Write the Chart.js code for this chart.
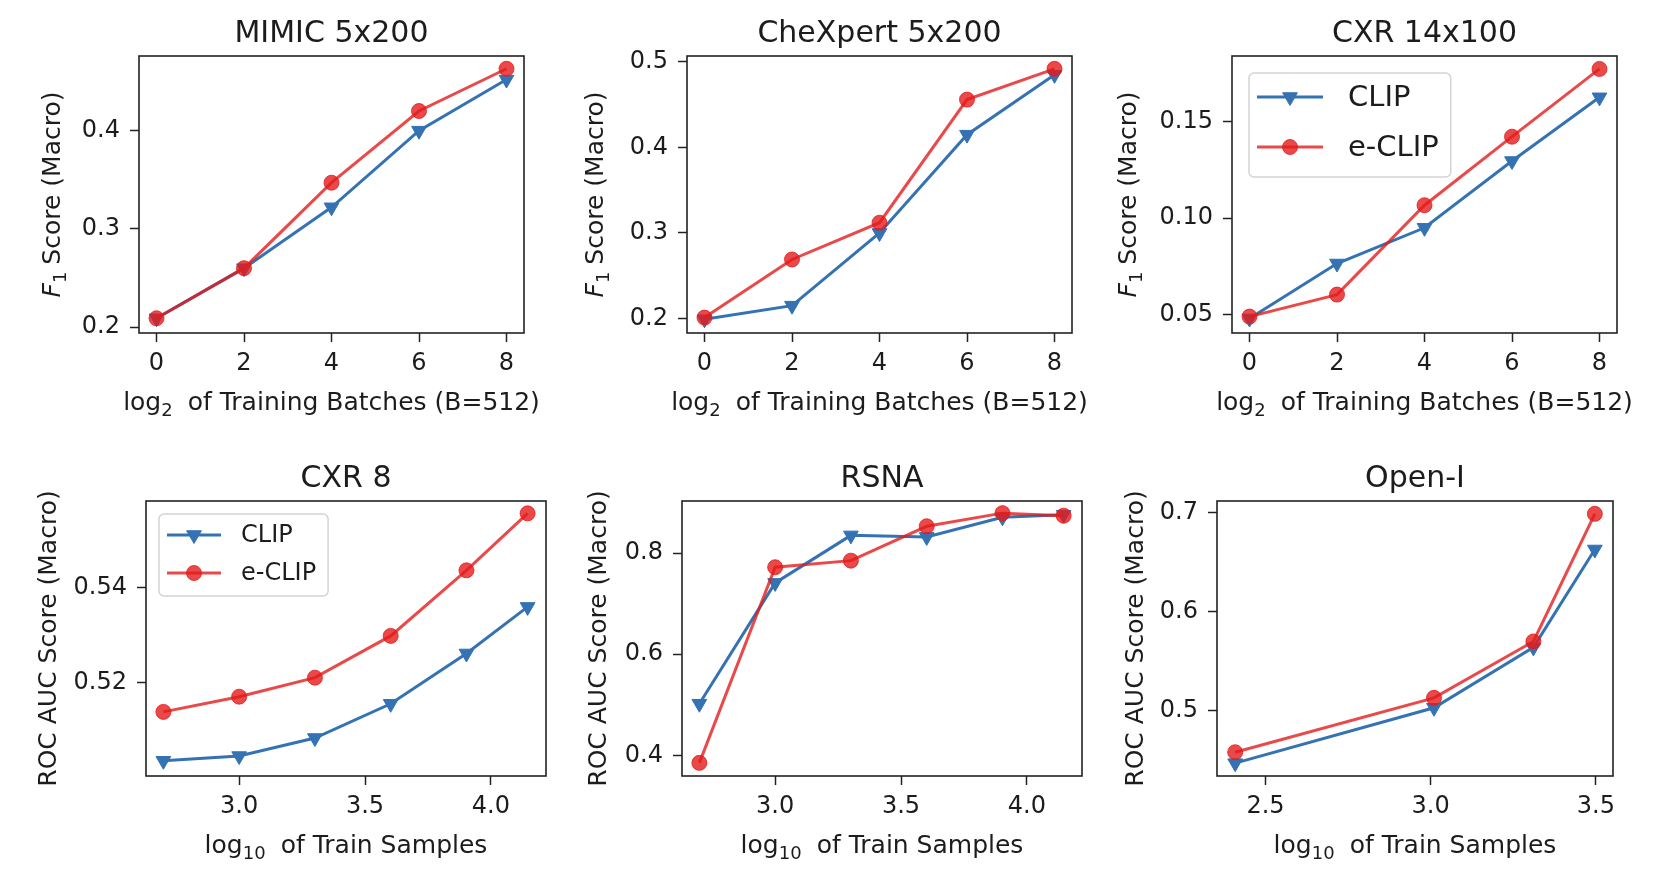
<!DOCTYPE html>
<html>
<head>
<meta charset="utf-8">
<script src="https://cdn.jsdelivr.net/npm/chart.js"></script>
<style>
html,body{margin:0;padding:0;background:#ffffff;}
#wrap{position:relative;width:1664px;height:882px;overflow:hidden;background:#fff;}
#wrap canvas{position:absolute;}
</style>
</head>
<body>
<div id="wrap"></div>
<script>
// ---------------- DATA ----------------
const batchX = [0, 2, 4, 6, 8];
const mimicClip  = [0.209, 0.260, 0.322, 0.400, 0.452];
const mimicEclip = [0.209, 0.260, 0.347, 0.420, 0.463];
const chexClip   = [0.199, 0.215, 0.300, 0.415, 0.485];
const chexEclip  = [0.201, 0.269, 0.312, 0.456, 0.492];
const cxr14Clip  = [0.048, 0.0765, 0.095, 0.1296, 0.1626];
const cxr14Eclip = [0.049, 0.0604, 0.1067, 0.1422, 0.1773];

const sampleX    = [2.699, 3.0, 3.301, 3.602, 3.903, 4.146];
const cxr8Clip   = [0.5036, 0.5046, 0.5084, 0.5156, 0.5262, 0.5360];
const cxr8Eclip  = [0.5139, 0.5171, 0.5211, 0.5299, 0.5437, 0.5557];
const rsnaClip   = [0.502, 0.741, 0.835, 0.832, 0.871, 0.876];
const rsnaEclip  = [0.385, 0.772, 0.785, 0.853, 0.879, 0.874];
const openiX     = [2.408, 3.010, 3.311, 3.497];
const openiClip  = [0.447, 0.503, 0.564, 0.663];
const openiEclip = [0.458, 0.513, 0.570, 0.699];

const seriesNames = ['CLIP', 'e-CLIP'];
const panelTitles = ['MIMIC 5x200', 'CheXpert 5x200', 'CXR 14x100', 'CXR 8', 'RSNA', 'Open-I'];

// tick labels
const batchTicks  = [0, 2, 4, 6, 8];
const sampleTicks = [3.0, 3.5, 4.0];
const openiXTicks = [2.5, 3.0, 3.5];
const mimicYTicks = [0.2, 0.3, 0.4];
const chexYTicks  = [0.2, 0.3, 0.4, 0.5];
const cxr14YTicks = [0.05, 0.10, 0.15];
const cxr8YTicks  = [0.52, 0.54];
const rsnaYTicks  = [0.4, 0.6, 0.8];
const openiYTicks = [0.5, 0.6, 0.7];

// axis ranges
const xRanges = [[-0.4, 8.4], [-0.4, 8.4], [-0.4, 8.4], [2.630, 4.219], [2.630, 4.219], [2.353, 3.552]];
const yRanges = [[0.194, 0.476], [0.183, 0.507], [0.0405, 0.184], [0.5004, 0.5583], [0.359, 0.903], [0.434, 0.712]];

// axis label texts: [main, subscript, rest]
const xLabelTop = ['log', '2', 'of Training Batches (B=512)'];
const xLabelBottom = ['log', '10', 'of Train Samples'];
const yLabelTop = ['F', '1', 'Score (Macro)'];
const yLabelBottom = ['', '', 'ROC AUC Score (Macro)'];

// ---------------- STYLE / LAYOUT ----------------
const FONT = "'DejaVu Sans', 'Liberation Sans', sans-serif";
const TXT = '#1c1c1c';
const BLUE = 'rgb(52,114,179)';
const RED = 'rgba(228,28,28,0.80)';

// plot boxes [left, top, right, bottom]
const boxes = [
  [139, 56, 524, 333], [687, 56, 1072, 333], [1232, 56, 1617, 333],
  [146, 501, 546, 776], [682, 501, 1082, 776], [1217, 501, 1613, 776]
];
const yTitleGap = [88, 93, 105, 99, 85, 83];
const legendCfg = [null, null,
  {fs: 29, dx: 17, dy: 17, pad: 8, handle: 66, gap: 25, r1: 24, rh: 50, h: 104},
  {fs: 24, dx: 13, dy: 13, pad: 8, handle: 54, gap: 20, r1: 21, rh: 38, h: 82},
  null, null];

const panels = [
  {x: batchX, s: [mimicClip, mimicEclip], xt: batchTicks, yt: mimicYTicks, xd: 0, yd: 1, xl: xLabelTop, yl: yLabelTop},
  {x: batchX, s: [chexClip, chexEclip], xt: batchTicks, yt: chexYTicks, xd: 0, yd: 1, xl: xLabelTop, yl: yLabelTop},
  {x: batchX, s: [cxr14Clip, cxr14Eclip], xt: batchTicks, yt: cxr14YTicks, xd: 0, yd: 2, xl: xLabelTop, yl: yLabelTop},
  {x: sampleX, s: [cxr8Clip, cxr8Eclip], xt: sampleTicks, yt: cxr8YTicks, xd: 1, yd: 2, xl: xLabelBottom, yl: yLabelBottom},
  {x: sampleX, s: [rsnaClip, rsnaEclip], xt: sampleTicks, yt: rsnaYTicks, xd: 1, yd: 1, xl: xLabelBottom, yl: yLabelBottom},
  {x: openiX, s: [openiClip, openiEclip], xt: openiXTicks, yt: openiYTicks, xd: 1, yd: 1, xl: xLabelBottom, yl: yLabelBottom}
];

const AXW = 135, TH = 56, PR = 40, XH = 90;
const LABEL_PX = 25, SUB_PX = 18;

function drawMarker(ctx, style, x, y, r, color) {
  ctx.save();
  ctx.fillStyle = color; ctx.strokeStyle = color; ctx.lineWidth = 1;
  if (Chart.helpers && Chart.helpers.drawPoint) {
    Chart.helpers.drawPoint(ctx, {pointStyle: style, rotation: style === 'triangle' ? 180 : 0, radius: r, borderWidth: 1}, x, y);
  } else {
    ctx.beginPath();
    if (style === 'circle') ctx.arc(x, y, r, 0, Math.PI * 2);
    else { ctx.moveTo(x, y + r); ctx.lineTo(x - 0.866 * r, y - r / 2); ctx.lineTo(x + 0.866 * r, y - r / 2); ctx.closePath(); }
    ctx.fill(); ctx.stroke();
  }
  ctx.restore();
}

// draws [main(italic if single letter F), sub, rest] centred at 0,0 in current transform
function drawRichLabel(ctx, lab, extraGap) {
  const parts = [];
  if (lab[0]) parts.push({t: lab[0], f: (lab[0] === 'F' ? 'italic ' : '') + LABEL_PX + 'px ' + FONT, dy: 0, gap: 0});
  if (lab[1]) parts.push({t: lab[1], f: SUB_PX + 'px ' + FONT, dy: 6, gap: 0});
  parts.push({t: lab[2], f: LABEL_PX + 'px ' + FONT, dy: 0, gap: lab[0] ? extraGap : 0});
  let tw = 0;
  parts.forEach(q => { ctx.font = q.f; q.w = ctx.measureText(q.t).width; tw += q.w + q.gap; });
  let cx = -tw / 2;
  ctx.fillStyle = TXT; ctx.textBaseline = 'alphabetic'; ctx.textAlign = 'left';
  const base = 9;
  parts.forEach(q => { cx += q.gap; ctx.font = q.f; ctx.fillText(q.t, cx, base + q.dy); cx += q.w; });
}

const framePlugin = {
  id: 'frameAndExtras',
  afterDatasetsDraw(chart) {
    const ctx = chart.ctx, a = chart.chartArea;
    const idx = chart.options.plugins.frameAndExtras.idx;
    const p = panels[idx];
    // frame
    ctx.save();
    ctx.strokeStyle = '#222'; ctx.lineWidth = 1.6;
    ctx.strokeRect(a.left, a.top, a.right - a.left, a.bottom - a.top);
    ctx.restore();
    // y title
    ctx.save();
    ctx.translate(a.left - yTitleGap[idx], (a.top + a.bottom) / 2);
    ctx.rotate(-Math.PI / 2);
    drawRichLabel(ctx, p.yl, 7);
    ctx.restore();
    // x title
    ctx.save();
    ctx.translate((a.left + a.right) / 2, a.bottom + 68);
    drawRichLabel(ctx, p.xl, 15);
    ctx.restore();
    // legend
    const lg = legendCfg[idx];
    if (lg) {
      const ds = chart.data.datasets;
      ctx.save();
      ctx.font = lg.fs + 'px ' + FONT;
      let maxW = 0;
      ds.forEach(d => { maxW = Math.max(maxW, ctx.measureText(d.label).width); });
      const bx = a.left + lg.dx, by = a.top + lg.dy;
      const bw = lg.pad + lg.handle + lg.gap + maxW + 12;
      ctx.beginPath();
      if (ctx.roundRect) ctx.roundRect(bx, by, bw, lg.h, 5); else ctx.rect(bx, by, bw, lg.h);
      ctx.fillStyle = 'rgba(255,255,255,0.8)';
      ctx.fill();
      ctx.strokeStyle = '#d4d4d4'; ctx.lineWidth = 1.5;
      ctx.stroke();
      ds.forEach((d, k) => {
        const ry = by + lg.r1 + k * lg.rh;
        const x0 = bx + lg.pad, x1 = x0 + lg.handle;
        ctx.strokeStyle = d.borderColor; ctx.lineWidth = d.borderWidth;
        ctx.beginPath(); ctx.moveTo(x0, ry); ctx.lineTo(x1, ry); ctx.stroke();
        drawMarker(ctx, d.pointStyle, (x0 + x1) / 2, ry, d.pointRadius, d.borderColor);
        ctx.fillStyle = TXT;
        ctx.textBaseline = 'middle'; ctx.textAlign = 'left';
        ctx.font = lg.fs + 'px ' + FONT;
        ctx.fillText(d.label, x1 + lg.gap, ry + 1);
      });
      ctx.restore();
    }
  }
};

const wrap = document.getElementById('wrap');

function makeChart(i) {
  const p = panels[i];
  const [L, T, R, B] = boxes[i];
  const W = AXW + (R - L) + PR, H = TH + (B - T) + XH;
  const cv = document.createElement('canvas');
  cv.width = W; cv.height = H;
  cv.style.left = (L - AXW) + 'px'; cv.style.top = (T - TH) + 'px';
  cv.style.width = W + 'px'; cv.style.height = H + 'px';
  wrap.appendChild(cv);
  const colors = [BLUE, RED];
  const styles = ['triangle', 'circle'];
  const radii = [8.5, 7.5];
  const datasets = p.s.map((ys, k) => ({
    label: seriesNames[k],
    data: p.x.map((xv, j) => ({x: xv, y: ys[j]})),
    borderColor: colors[k], backgroundColor: colors[k],
    pointBackgroundColor: colors[k], pointBorderColor: colors[k],
    borderWidth: 3, pointStyle: styles[k], rotation: k === 0 ? 180 : 0,
    pointRadius: radii[k], pointBorderWidth: 1, pointHoverRadius: radii[k],
    tension: 0, fill: false, order: k === 0 ? 2 : 1
  }));
  const tickFont = {family: FONT, size: 24};
  const grid = {display: true, drawOnChartArea: false, drawTicks: true, tickLength: 9, tickWidth: 1.5, tickColor: '#222'};
  new Chart(cv, {
    type: 'line',
    data: {datasets},
    options: {
      responsive: false, animation: false, devicePixelRatio: 1, events: [],
      layout: {padding: {left: 0, top: 0, right: PR, bottom: 0}},
      plugins: {
        legend: {display: false}, tooltip: {enabled: false},
        title: {display: true, text: panelTitles[i], fullSize: false, color: TXT,
          font: {family: FONT, size: 30, weight: 'normal'}, padding: {top: 16, bottom: 4}},
        frameAndExtras: {idx: i}
      },
      scales: {
        x: {
          type: 'linear', min: xRanges[i][0], max: xRanges[i][1],
          afterFit: s => { s.height = XH; },
          afterBuildTicks: s => { s.ticks = p.xt.map(v => ({value: v})); },
          ticks: {callback: v => Number(v).toFixed(p.xd), font: tickFont, color: TXT, padding: 7, maxRotation: 0, autoSkip: false},
          grid: grid, border: {display: false},
          title: {display: false}
        },
        y: {
          type: 'linear', min: yRanges[i][0], max: yRanges[i][1],
          afterFit: s => { s.width = AXW; },
          afterBuildTicks: s => { s.ticks = p.yt.map(v => ({value: v})); },
          ticks: {callback: v => Number(v).toFixed(p.yd), font: tickFont, color: TXT, padding: 10, autoSkip: false},
          grid: grid, border: {display: false},
          title: {display: false}
        }
      }
    },
    plugins: [framePlugin]
  });
}

for (let i = 0; i < 6; i++) makeChart(i);
</script>
</body>
</html>
